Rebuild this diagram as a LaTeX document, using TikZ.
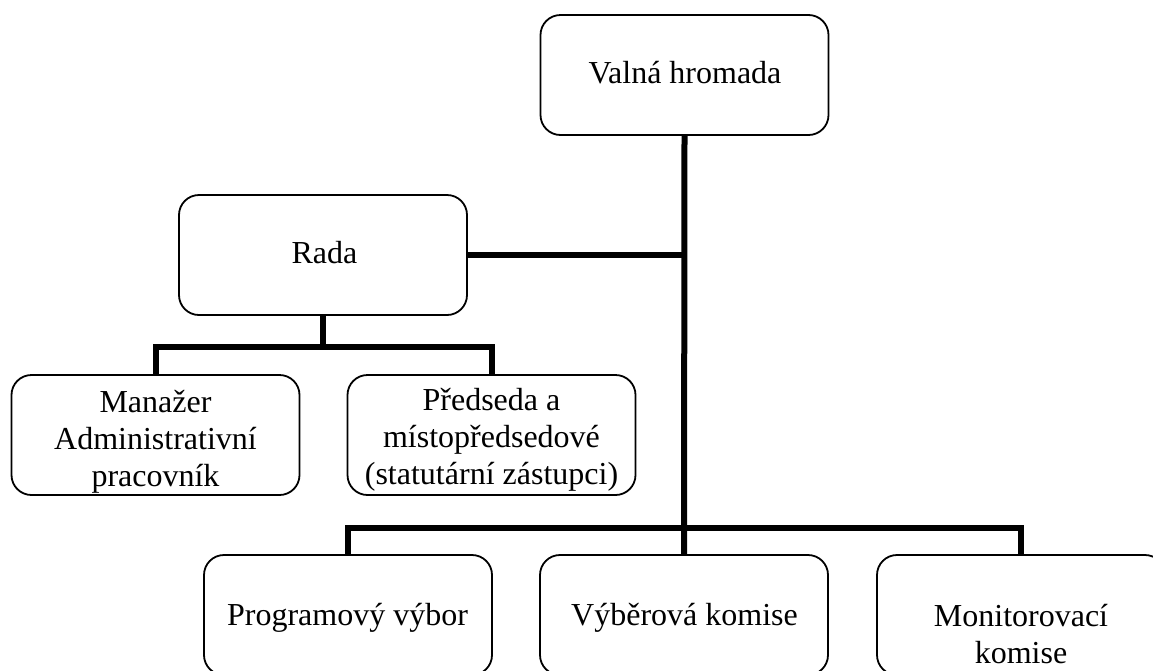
\documentclass[tikz,border=0pt]{standalone}
\usepackage{fontspec}
\setmainfont{Liberation Serif}
\begin{document}
\begin{tikzpicture}[x=1pt,y=-1pt,
  orgbox/.style={draw=black, line width=1.8pt, rounded corners=20pt,
    minimum width=288pt, minimum height=120pt, inner sep=0pt},
  oneline/.style={font=\fontsize{32}{37}\selectfont, inner sep=0pt,
    text height=22pt, text depth=8pt},
  multiline/.style={font=\fontsize{32}{37}\selectfont, inner sep=0pt, align=center},
  conn/.style={draw=black, line width=6pt, line join=miter}]
\useasboundingbox (0,0) rectangle (1153,670);
\clip (0,0) rectangle (1153,670);
% boxes
\node[orgbox] (vh)   at (684.5,75) {};
\node[orgbox] (rada) at (323,255) {};
\node[orgbox] (man)  at (155.5,435) {};
\node[orgbox] (pred) at (491.5,435) {};
\node[orgbox] (prog) at (348,615) {};
\node[orgbox] (vyb)  at (684,615) {};
\node[orgbox] (mon)  at (1021,615) {};
% texts
\node[oneline] (vht)   at (685,76) {Valná hromada};
\node[oneline] (radat) at (324.5,256) {Rada};
\node[multiline] (mant)  at (155.5,442) {Manažer\\Administrativní\\pracovník};
\node[multiline] (predt) at (491.5,440) {Předseda a\\místopředsedové\\(statutární zástupci)};
\node[oneline] (progt) at (347.5,618) {Programový výbor};
\node[oneline] (vybt)  at (684.5,618) {Výběrová komise};
\node[multiline] (mont)  at (1021,634) {Monitorovací\\komise};
% bars
\coordinate (rbar) at (0,347);
\coordinate (bbar) at (0,528);
% connectors
\draw[conn] (vh.south) -- (vyb.north);
\draw[conn] (rada.east) -- (rada.east -| vh.south);
\draw[conn] (rada.south) -- (rada.south |- rbar);
\draw[conn] (man.north) |- (pred.north |- rbar) -- (pred.north);
\draw[conn] (prog.north) |- (mon.north |- bbar) -- (mon.north);
\end{tikzpicture}
\end{document}
